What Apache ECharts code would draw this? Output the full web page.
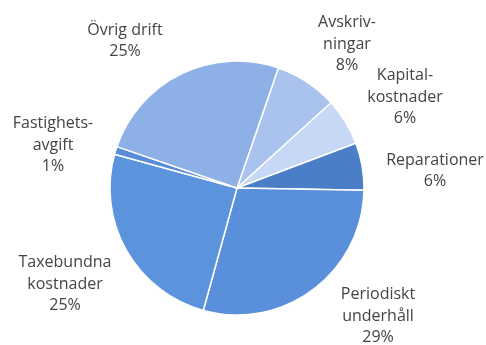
<!DOCTYPE html>
<html><head><meta charset="utf-8">
<script src="https://cdn.jsdelivr.net/npm/echarts@6/dist/echarts.min.js"></script>
<style>html,body{margin:0;padding:0;background:#fff}#c{width:486px;height:345px}</style>
</head><body><div id="c"></div>
<script>
const categories = ["Avskriv-\nningar", "Kapital-\nkostnader", "Reparationer", "Periodiskt\nunderhåll", "Taxebundna\nkostnader", "Fastighets-\navgift", "Övrig drift"];
const values = [8, 6, 6, 29, 25, 1, 25];
const colors = ["#a9c3ee", "#c6d8f5", "#4a7ec6", "#5a8fdc", "#5b93dd", "#5b8cd8", "#8db0e6"];
const labelCenters = [[347, 44], [405, 97], [435, 171], [378, 316], [65, 284], [53, 145], [125, 41]];

const chart = echarts.init(document.getElementById('c'), null, {renderer: 'canvas'});
chart.setOption({
  backgroundColor: '#fff',
  animation: false,
  series: [{
    type: 'pie',
    center: [237, 188],
    radius: 127,
    startAngle: 71,
    clockwise: true,
    avoidLabelOverlap: false,
    itemStyle: {borderColor: '#fff', borderWidth: 1.5},
    label: {
      show: true,
      position: 'outside',
      formatter: p => p.name + '\n' + p.value + '%',
      fontFamily: 'Open Sans',
      fontSize: 16,
      lineHeight: 21.5,
      color: '#444',
      align: 'center'
    },
    labelLine: {show: false},
    labelLayout: p => ({
      x: labelCenters[p.dataIndex][0],
      y: labelCenters[p.dataIndex][1],
      align: 'center',
      verticalAlign: 'middle'
    }),
    data: categories.map((c, i) => ({name: c, value: values[i], itemStyle: {color: colors[i]}}))
  }]
});
</script></body></html>
